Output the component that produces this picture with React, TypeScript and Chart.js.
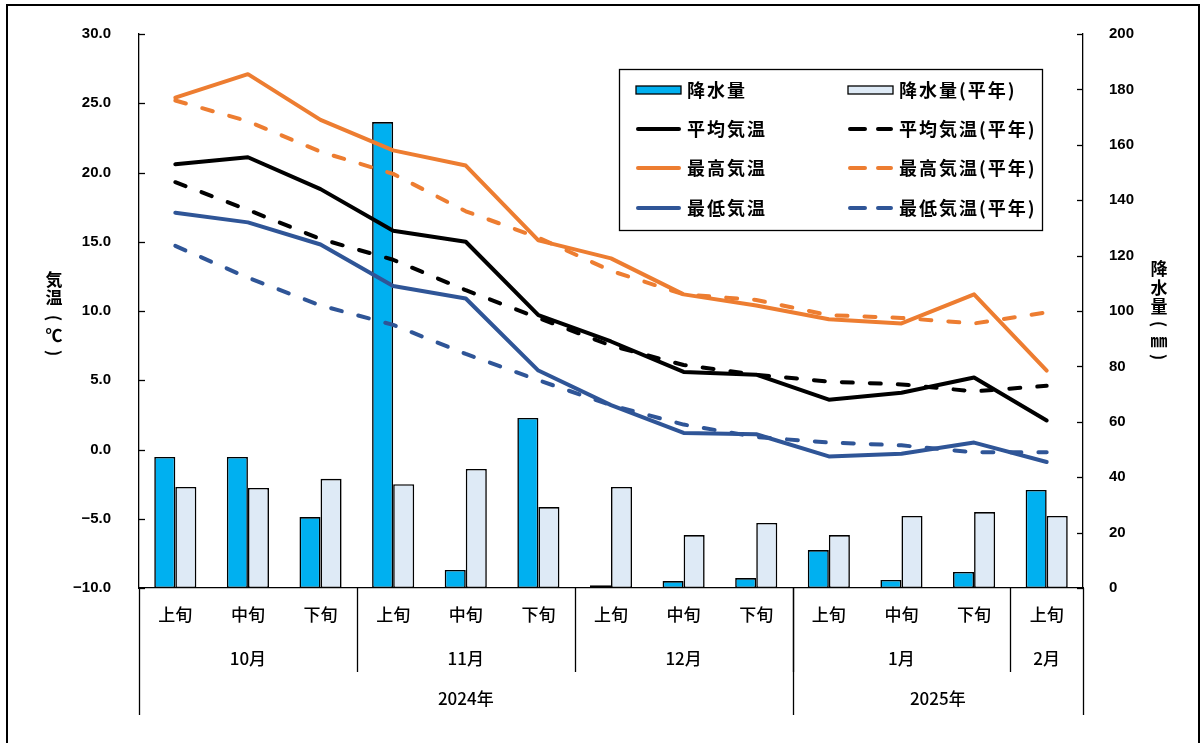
import { useEffect, useRef } from 'react';
import { Chart, registerables } from 'chart.js';

Chart.register(...registerables);

const categories = ['上旬', '中旬', '下旬', '上旬', '中旬', '下旬', '上旬', '中旬', '下旬', '上旬', '中旬', '下旬', '上旬'];
const monthLabels = ['10月', '11月', '12月', '1月', '2月'];
const monthSpans = [3, 3, 3, 3, 1];
const yearLabels = ['2024年', '2025年'];
const yearSpans = [9, 4];

const precip = [47.3, 47.3, 25.6, 168.2, 6.5, 61.4, 1.0, 2.5, 3.6, 13.7, 2.9, 5.8, 35.4];
const precipNormal = [36.5, 36.1, 39.4, 37.5, 43.0, 29.2, 36.5, 19.1, 23.5, 19.1, 26.0, 27.4, 26.0];
const tempAvg = [20.6, 21.1, 18.8, 15.8, 15.0, 9.7, 7.8, 5.6, 5.4, 3.6, 4.1, 5.2, 2.1];
const tempAvgNormal = [19.3, 17.3, 15.2, 13.7, 11.5, 9.5, 7.5, 6.1, 5.4, 4.9, 4.7, 4.2, 4.6];
const tempMax = [25.4, 27.1, 23.8, 21.6, 20.5, 15.1, 13.8, 11.2, 10.4, 9.4, 9.1, 11.2, 5.7];
const tempMaxNormal = [25.2, 23.7, 21.5, 19.9, 17.2, 15.3, 12.9, 11.2, 10.8, 9.7, 9.5, 9.1, 9.9];
const tempMin = [17.1, 16.4, 14.8, 11.8, 10.9, 5.7, 3.2, 1.2, 1.1, -0.5, -0.3, 0.5, -0.9];
const tempMinNormal = [14.7, 12.4, 10.4, 9.0, 6.9, 5.0, 3.2, 1.8, 0.9, 0.5, 0.3, -0.2, -0.2];

const tempRange = [-10, 30, 5];
const precipRange = [0, 200, 20];

const leftTitle = ['気', '温', '(', '℃', ')'];
const rightTitle = ['降', '水', '量', '(', '㎜', ')'];

const C_BAR = '#00B0F0';
const C_BAR_N = '#DEEAF6';
const C_BLACK = '#000000';
const C_ORANGE = '#ED7D31';
const C_BLUE = '#2F5597';
const DASH = [11, 17];

const JP = '"Noto Sans CJK JP", "Noto Sans", sans-serif';
const NUM = '"Liberation Sans", Arial, sans-serif';

const legendItems = [
  { label: '降水量', type: 'bar', color: C_BAR, dash: false },
  { label: '降水量(平年)', type: 'bar', color: C_BAR_N, dash: false },
  { label: '平均気温', type: 'line', color: C_BLACK, dash: false },
  { label: '平均気温(平年)', type: 'line', color: C_BLACK, dash: true },
  { label: '最高気温', type: 'line', color: C_ORANGE, dash: false },
  { label: '最高気温(平年)', type: 'line', color: C_ORANGE, dash: true },
  { label: '最低気温', type: 'line', color: C_BLUE, dash: false },
  { label: '最低気温(平年)', type: 'line', color: C_BLUE, dash: true },
];

function drawVChar(ctx: CanvasRenderingContext2D, ch: string, x: number, y: number) {
  if (ch === '(' || ch === ')') {
    ctx.save();
    ctx.translate(x, y);
    ctx.rotate(Math.PI / 2);
    ctx.fillText(ch, 0, 0);
    ctx.restore();
  } else {
    ctx.fillText(ch, x, y);
  }
}

const decorPlugin = {
  id: 'decor',
  afterDraw(chart: any) {
    const ctx = chart.ctx as CanvasRenderingContext2D;
    const ca = chart.chartArea;
    const xs = chart.scales.x;
    const ys = chart.scales.y;
    const y1 = chart.scales.y1;
    ctx.save();

    // inward tick marks
    ctx.strokeStyle = '#000';
    ctx.lineWidth = 1.3;
    ys.ticks.forEach((t: any) => {
      const py = Math.round(ys.getPixelForValue(t.value)) + 0.5;
      ctx.beginPath();
      ctx.moveTo(ca.left, py);
      ctx.lineTo(ca.left + 6, py);
      ctx.stroke();
    });
    y1.ticks.forEach((t: any) => {
      const py = Math.round(y1.getPixelForValue(t.value)) + 0.5;
      ctx.beginPath();
      ctx.moveTo(ca.right - 6, py);
      ctx.lineTo(ca.right, py);
      ctx.stroke();
    });

    // x axis multi level labels
    const n = categories.length;
    const edge = (i: number) => {
      if (i <= 0) return ca.left;
      if (i >= n) return ca.right;
      return (xs.getPixelForValue(i - 1) + xs.getPixelForValue(i)) / 2;
    };
    ctx.fillStyle = '#000';
    ctx.textAlign = 'center';
    ctx.textBaseline = 'middle';
    ctx.font = `500 17px ${JP}`;
    categories.forEach((c, i) => {
      ctx.fillText(c, xs.getPixelForValue(i), ca.bottom + 27);
    });
    const b = ca.bottom;
    ctx.lineWidth = 1.3;
    const vline = (x: number, y2: number) => {
      const px = Math.round(x) + 0.5;
      ctx.beginPath();
      ctx.moveTo(px, b);
      ctx.lineTo(px, y2);
      ctx.stroke();
    };
    let idx = 0;
    monthLabels.forEach((m, k) => {
      const s = idx;
      const e = idx + monthSpans[k];
      ctx.fillText(m, (edge(s) + edge(e)) / 2, b + 71);
      if (k > 0) vline(edge(s), b + 84);
      idx = e;
    });
    idx = 0;
    yearLabels.forEach((yl, k) => {
      const s = idx;
      const e = idx + yearSpans[k];
      ctx.fillText(yl, (edge(s) + edge(e)) / 2, b + 111);
      vline(edge(s), b + 127);
      idx = e;
    });
    vline(edge(n), b + 127);

    // axis titles (vertical)
    ctx.font = `bold 17px ${JP}`;
    const leftY = [280, 298, 318, 336, 353];
    leftTitle.forEach((ch, i) => drawVChar(ctx, ch, 54, leftY[i]));
    const rightY = [269, 288, 307, 324, 341, 357];
    rightTitle.forEach((ch, i) => drawVChar(ctx, ch, 1159, rightY[i]));

    // legend
    const lx = 619, ly = 69, lw = 423, lh = 161;
    ctx.fillStyle = '#fff';
    ctx.fillRect(lx, ly, lw, lh);
    ctx.strokeStyle = '#000';
    ctx.lineWidth = 1.3;
    ctx.strokeRect(lx + 0.5, ly + 0.5, lw, lh);
    const rowsY = [90, 129, 168, 208];
    const colX = [636, 848];
    ctx.font = `bold 18px ${JP}`;
    (ctx as any).letterSpacing = '2px';
    ctx.textAlign = 'left';
    legendItems.forEach((it, i) => {
      const r = Math.floor(i / 2);
      const c = i % 2;
      const sx = colX[c];
      const sy = rowsY[r];
      if (it.type === 'bar') {
        ctx.fillStyle = it.color;
        ctx.fillRect(sx, sy - 4, 45, 8);
        ctx.strokeStyle = '#000';
        ctx.lineWidth = 1.3;
        ctx.strokeRect(sx, sy - 4, 45, 8);
      } else {
        ctx.strokeStyle = it.color;
        ctx.lineWidth = 4;
        ctx.lineCap = 'round';
        ctx.beginPath();
        if (it.dash) {
          ctx.moveTo(sx + 2, sy);
          ctx.lineTo(sx + 17, sy);
          ctx.moveTo(sx + 30, sy);
          ctx.lineTo(sx + 43, sy);
        } else {
          ctx.moveTo(sx + 2, sy);
          ctx.lineTo(sx + 43, sy);
        }
        ctx.stroke();
        ctx.lineCap = 'butt';
      }
      ctx.fillStyle = '#000';
      ctx.textBaseline = 'middle';
      ctx.fillText(it.label, sx + 51, sy);
    });
    (ctx as any).letterSpacing = '0px';
    ctx.restore();
  },
};

function lineDs(label: string, data: number[], color: string, dashed: boolean) {
  return {
    type: 'line' as const,
    label,
    data,
    yAxisID: 'y',
    borderColor: color,
    backgroundColor: color,
    borderWidth: 4,
    borderDash: dashed ? DASH : [],
    borderCapStyle: 'round' as const,
    borderJoinStyle: 'round' as const,
    pointRadius: 0,
    tension: 0,
    order: 0,
  };
}

export default function App() {
  const ref = useRef<HTMLCanvasElement | null>(null);
  useEffect(() => {
    if (!ref.current) return;
    const chart = new Chart(ref.current, {
      data: {
        labels: categories,
        datasets: [
          {
            type: 'bar',
            label: '降水量',
            data: precip,
            yAxisID: 'y1',
            backgroundColor: C_BAR,
            borderColor: '#000',
            borderWidth: 1.6,
            borderSkipped: false,
            categoryPercentage: 0.58,
            barPercentage: 1.0,
            order: 1,
          } as any,
          {
            type: 'bar',
            label: '降水量(平年)',
            data: precipNormal,
            yAxisID: 'y1',
            backgroundColor: C_BAR_N,
            borderColor: '#000',
            borderWidth: 1.6,
            borderSkipped: false,
            categoryPercentage: 0.58,
            barPercentage: 1.0,
            order: 1,
          } as any,
          lineDs('平均気温', tempAvg, C_BLACK, false),
          lineDs('平均気温(平年)', tempAvgNormal, C_BLACK, true),
          lineDs('最高気温', tempMax, C_ORANGE, false),
          lineDs('最高気温(平年)', tempMaxNormal, C_ORANGE, true),
          lineDs('最低気温', tempMin, C_BLUE, false),
          lineDs('最低気温(平年)', tempMinNormal, C_BLUE, true),
        ] as any,
      },
      options: {
        animation: false,
        responsive: false,
        devicePixelRatio: 1,
        layout: { padding: { top: 34, left: 0, right: 0, bottom: 0 } },
        plugins: { legend: { display: false }, tooltip: { enabled: false } },
        scales: {
          x: {
            type: 'category',
            offset: true,
            grid: { display: false },
            border: { display: true, color: '#000', width: 1.3 },
            ticks: { display: false },
            afterFit: (s: any) => { s.height = 155; },
          },
          y: {
            type: 'linear',
            position: 'left',
            min: tempRange[0],
            max: tempRange[1],
            grid: { display: false },
            border: { display: true, color: '#000', width: 1.3 },
            ticks: {
              stepSize: tempRange[2],
              padding: 20,
              color: '#000',
              font: { family: NUM, size: 15, weight: 'bold' },
              callback: (v: any) => Number(v).toFixed(1).replace('-', '−'),
            },
            afterFit: (s: any) => { s.width = 139; },
          },
          y1: {
            type: 'linear',
            position: 'right',
            min: precipRange[0],
            max: precipRange[1],
            grid: { display: false },
            border: { display: true, color: '#000', width: 1.3 },
            ticks: {
              stepSize: precipRange[2],
              padding: 18,
              color: '#000',
              font: { family: NUM, size: 15, weight: 'bold' },
            },
            afterFit: (s: any) => { s.width = 117; },
          },
        },
      } as any,
      plugins: [decorPlugin],
    });
    return () => chart.destroy();
  }, []);

  return (
    <div style={{ position: 'fixed', left: 0, top: 0, width: 1200, height: 743, background: '#fff', overflow: 'hidden' }}>
      <canvas ref={ref} width={1200} height={743} style={{ display: 'block' }} />
      <div
        style={{
          position: 'absolute',
          left: 6,
          top: 4,
          width: 1194,
          height: 760,
          boxSizing: 'border-box',
          border: '2px solid #000',
          pointerEvents: 'none',
        }}
      />
    </div>
  );
}
